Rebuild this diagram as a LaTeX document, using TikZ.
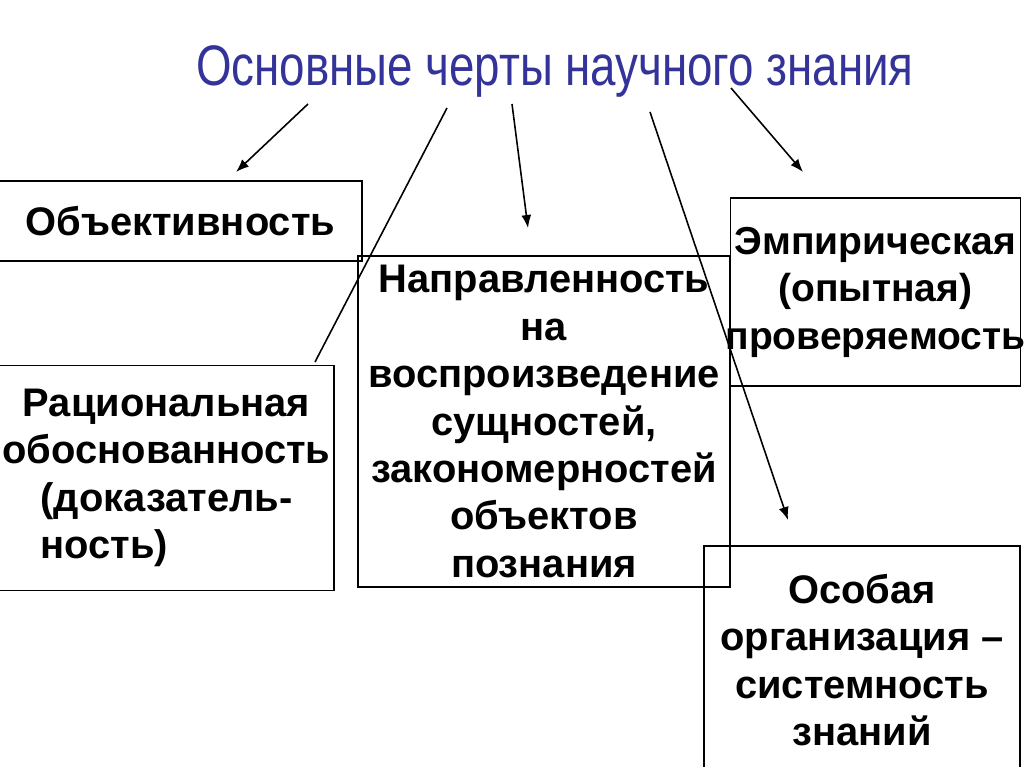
\documentclass[tikz,border=0pt]{standalone}
\usepackage{fontspec}
\usepackage{calc}
\setmainfont{Liberation Sans}
\newfontfamily\titlefont[FakeStretch=0.8]{Liberation Sans}
\usetikzlibrary{arrows.meta}
\definecolor{titleblue}{RGB}{51,51,153}

\begin{document}
\begin{tikzpicture}[x=0.02cm, y=-0.02cm,
    box/.style = {draw, line width=0.8pt, align=center, inner sep=0pt,
      font=\fontsize{22.7}{27}\bfseries\selectfont},
    arr/.style = {line width=0.9pt, -{Latex[length=2.6mm, width=2mm]}}]
        \useasboundingbox (0,0) rectangle (1024,767);
        \node[font=\fontsize{32.5}{38}\titlefont, text=titleblue] (title) at (555,71) {Основные черты научного знания};
        %
        \node[box, minimum width=7.26cm, minimum height=1.6cm] (obj) at (180.5,221) {Объективность};
        \node[box, minimum width=6.7cm, minimum height=4.5cm] (rac) at (166.5,478)
          {Рациональная\\обоснованность\\(доказатель-\\\makebox[\widthof{(доказатель-}][l]{ность)}};
        \node[box, minimum width=7.44cm, minimum height=6.62cm] (napr) at (544,421.5)
          {Направленность\\на\\воспроизведение\\сущностей,\\закономерностей\\объектов\\познания};
        \node[box, minimum width=5.78cm, minimum height=3.76cm, inner xsep=-3pt,
          font=\fontsize{22.2}{27}\bfseries\selectfont] (emp) at (875.5,292)
          {Эмпирическая\\(опытная)\\проверяемость};
        \node[box, minimum width=6.32cm, minimum height=4.56cm] (osob) at (862,660)
          {Особая\\организация –\\системность\\знаний};
        %
        \coordinate (s1) at (308,104);
        \coordinate (e1) at (236,172);
        \coordinate (s2) at (447,108);
        \coordinate (e2) at (315,362);
        \coordinate (s3) at (512,104);
        \coordinate (e3) at (528,228);
        \coordinate (s4) at (650,112);
        \coordinate (e4) at (788,520);
        \coordinate (s5) at (731,88);
        \coordinate (e5) at (803,172);
        %
        \draw[arr] (s1) -- (e1);
        \draw[line width=0.9pt] (s2) -- (e2);
        \draw[arr] (s3) -- (e3);
        \draw[arr] (s4) -- (e4);
        \draw[arr] (s5) -- (e5);
      \end{tikzpicture}
\end{document}
